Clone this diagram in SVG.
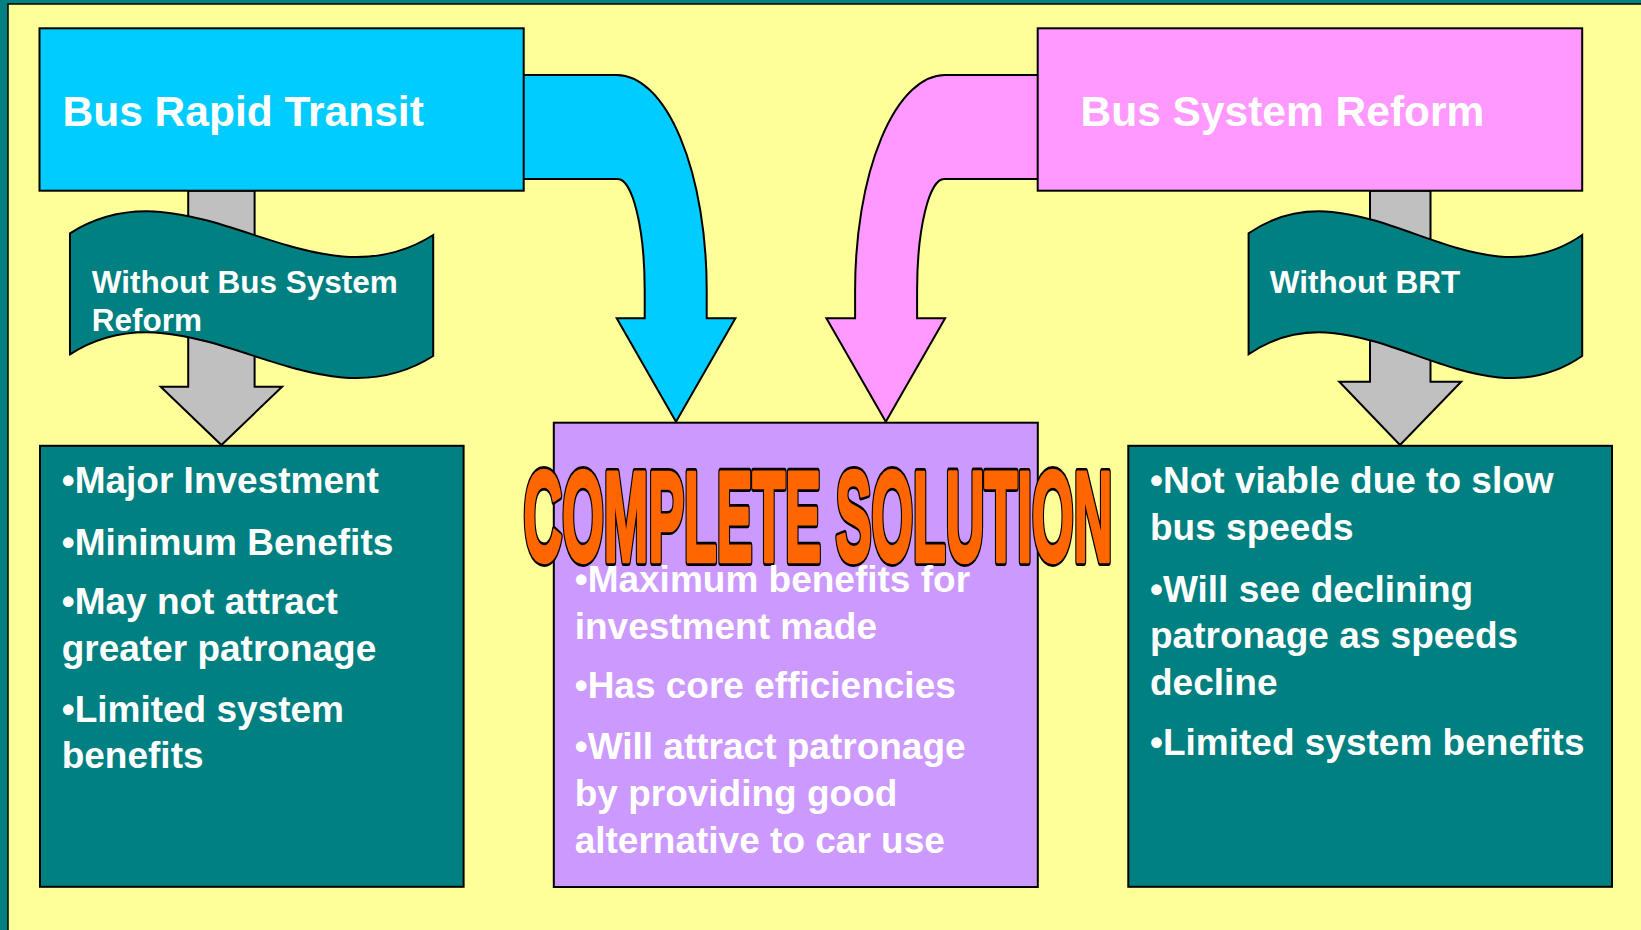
<svg xmlns="http://www.w3.org/2000/svg" xmlns:xlink="http://www.w3.org/1999/xlink" width="1641" height="930" viewBox="0 0 1641 930">
  <style>
    .box { stroke: #000; stroke-width: 2; }
    .head { font-family: "Liberation Sans", Arial, sans-serif; font-weight: bold; font-size: 42.5px; fill: #fff; }
    .tag { font-family: "Liberation Sans", Arial, sans-serif; font-weight: bold; font-size: 31.5px; fill: #fff; }
    .body { font-family: "Liberation Sans", Arial, sans-serif; font-weight: bold; font-size: 37px; fill: #fff; }
    .wordart { font-family: "Liberation Sans", Arial, sans-serif; font-weight: bold; font-size: 128px; stroke-linejoin: round; vector-effect: non-scaling-stroke; }
    .wa-edge { fill: #FF6600; stroke: #000; stroke-width: 7.5; }
    .wa-face { fill: #FF6600; stroke: #FF6600; stroke-width: 3.5; }
  </style>
  <defs>
    <!-- bent block arrow leaving the side of a header box and pointing down -->
    <path id="bend" stroke="#000" stroke-width="2" stroke-linejoin="miter"
          d="M515,75 L616.7,75 A90,215 0 0 1 706.7,290 L706.7,318.3 L735.4,318.3 L676,421.7 L616.7,318.3 L644.7,318.3 L644.7,290 A27,111 0 0 0 617.7,179 L515,179 Z"/>
  </defs>

  <!-- slide background -->
  <rect x="0" y="0" width="1641" height="930" fill="#008080"/>
  <rect x="8" y="4" width="1640" height="940" fill="#FFFF99" stroke="#000" stroke-width="1.5"/>

  <!-- connectors -->
  <g id="connectors">
    <use xlink:href="#bend" fill="#00CCFF"/>
    <use xlink:href="#bend" fill="#FF99FF" transform="matrix(-1,0,0,1,1561.8,0)"/>
    <path id="arrow-left-down" fill="#C0C0C0" stroke="#000" stroke-width="2"
          d="M188.2,190.7 L254.6,190.7 L254.6,386.7 L282.1,386.7 L221.4,445 L160.7,386.7 L188.2,386.7 Z"/>
    <path id="arrow-right-down" fill="#C0C0C0" stroke="#000" stroke-width="2"
          d="M1370,190.7 L1430.5,190.7 L1430.5,381.7 L1461.2,381.7 L1400,445 L1339.3,381.7 L1370,381.7 Z"/>
  </g>

  <!-- header boxes -->
  <g id="brt">
    <rect class="box" x="39.5" y="28.3" width="484.2" height="162.4" fill="#00CCFF"/>
    <text class="head" x="62.5" y="126">Bus Rapid Transit</text>
  </g>
  <g id="bsr">
    <rect class="box" x="1037.7" y="28.3" width="544.5" height="162.4" fill="#FF99FF"/>
    <text class="head" x="1080.5" y="126">Bus System Reform</text>
  </g>

  <!-- wave labels on the downward arrows -->
  <g id="without-bsr">
    <path fill="#008080" stroke="#000" stroke-width="2"
          d="M70,233.3 C191,156.3 312,312 433.2,235 L433.2,356 C312,433 191,277.3 70,354.3 Z"/>
    <text class="tag" x="91.8" y="292.7">Without Bus System</text>
    <text class="tag" x="91.8" y="331">Reform</text>
  </g>
  <g id="without-brt">
    <path fill="#008080" stroke="#000" stroke-width="2"
          d="M1248.6,233.3 C1359.8,156.3 1471,312 1582.2,235 L1582.2,356 C1471,433 1359.8,277.3 1248.6,354.3 Z"/>
    <text class="tag" x="1269.8" y="292.7">Without BRT</text>
  </g>

  <!-- outcome: BRT only -->
  <g id="brt-only">
    <rect class="box" x="40" y="445.8" width="423.6" height="441" fill="#008080"/>
    <text class="body" x="61.7" y="493.3">•Major Investment</text>
    <text class="body" x="61.7" y="555">•Minimum Benefits</text>
    <text class="body" x="61.7" y="614.3">•May not attract</text>
    <text class="body" x="61.7" y="660.5">greater patronage</text>
    <text class="body" x="61.7" y="721.7">•Limited system</text>
    <text class="body" x="61.7" y="768.3">benefits</text>
  </g>

  <!-- outcome: both together -->
  <g id="complete">
    <rect class="box" x="553.8" y="422.7" width="484" height="464.3" fill="#CC99FF"/>
    <!-- condensed outlined title: dark edge layer, then the orange face -->
    <g transform="translate(523.5,561) scale(0.42,1)">
      <text class="wordart wa-edge" x="0" y="0" textLength="1402" lengthAdjust="spacingAndGlyphs">COMPLETE SOLUTION</text>
      <text class="wordart wa-face" x="0" y="0" textLength="1402" lengthAdjust="spacingAndGlyphs">COMPLETE SOLUTION</text>
    </g>
    <text class="body" x="574.7" y="592.2">•Maximum benefits for</text>
    <text class="body" x="574.7" y="638.6">investment made</text>
    <text class="body" x="574.7" y="697.8">•Has core efficiencies</text>
    <text class="body" x="574.7" y="759.4">•Will attract patronage</text>
    <text class="body" x="574.7" y="806">by providing good</text>
    <text class="body" x="574.7" y="852.8">alternative to car use</text>
  </g>

  <!-- outcome: reform only -->
  <g id="bsr-only">
    <rect class="box" x="1128.3" y="445.8" width="483.7" height="441" fill="#008080"/>
    <text class="body" x="1150" y="493.3">•Not viable due to slow</text>
    <text class="body" x="1150" y="540">bus speeds</text>
    <text class="body" x="1150" y="601.7">•Will see declining</text>
    <text class="body" x="1150" y="648.3">patronage as speeds</text>
    <text class="body" x="1150" y="695">decline</text>
    <text class="body" x="1150" y="755">•Limited system benefits</text>
  </g>
</svg>
